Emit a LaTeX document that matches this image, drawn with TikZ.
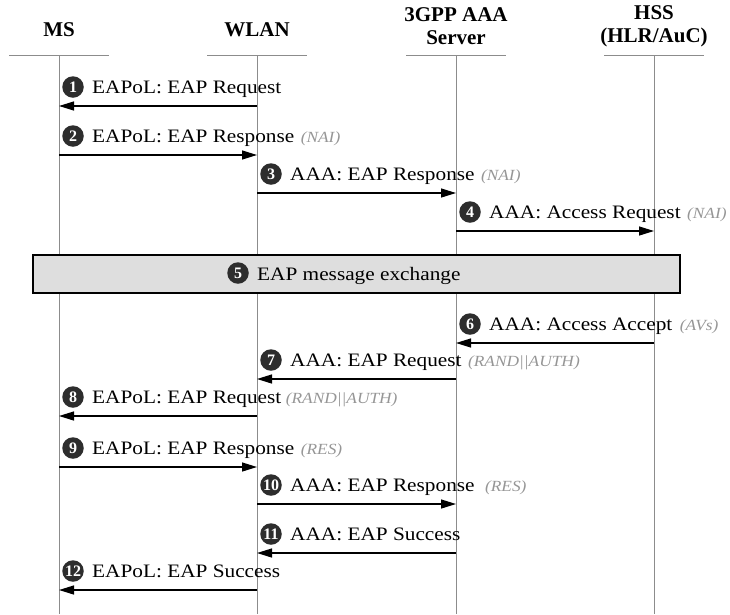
\documentclass[tikz,border=0pt]{standalone}
\usepackage{fontspec}
\setmainfont{Liberation Serif}
\newfontfamily\msgfont{Liberation Serif}[FakeStretch=1.12]
\usetikzlibrary{calc,positioning,arrows.meta}

\definecolor{lifegray}{RGB}{140,140,140}
\definecolor{notegray}{RGB}{150,150,150}
\definecolor{boxgray}{RGB}{222,222,222}
\definecolor{numdark}{RGB}{45,45,45}

\begin{document}
\begin{tikzpicture}[x=1pt,y=-1pt,
  head/.style={font=\fontsize{21}{23}\selectfont\bfseries, align=center, inner sep=0},
  life/.style={lifegray, line width=0.9pt},
  msg/.style={line width=1.3pt, -{Triangle[length=15pt,width=9pt]}},
  num/.style={circle, fill=numdark, text=white, inner sep=0, minimum size=21.5pt,
    font=\fontsize{16}{16}\selectfont\bfseries},
  lbl/.style={anchor=base west, inner sep=0, font=\msgfont\fontsize{19}{21}\selectfont},
  note/.style={inner sep=0, text=notegray, font=\msgfont\fontsize{15.5}{17}\selectfont\itshape},
]
\useasboundingbox (0,0) rectangle (730,614);

% entities
\node[head] (ms) at (59,30) {MS};
\node[head] (wlan) at (257,30) {WLAN};
\node[head] (aaa) at (456,26) {3GPP AAA\\Server};
\node[head] (hss) at (654,26) {HSS\\(HLR/AuC)};

\foreach \n/\x in {ms/59, wlan/257, aaa/456, hss/654} {
  \coordinate (\n l) at (\x-50,55);
  \coordinate (\n r) at (\x+50,55);
  \coordinate (\n top) at (\x,55);
  \coordinate (\n bot) at (\x,614);
  \draw[life] (\n l) -- (\n r);
  \draw[life] (\n top) -- (\n bot);
}

% points on the lifelines, one row per message
\foreach \r/\y in {1/106,2/155,3/193,4/231,6/343,7/379,8/416,9/467,10/504,11/553,12/590} {
  \coordinate (ms\r) at (59,\y);
  \coordinate (wlan\r) at (257,\y);
  \coordinate (aaa\r) at (456,\y);
  \coordinate (hss\r) at (654,\y);
}

% 1
\draw[msg] (wlan1) -- (ms1);
\node[num] (n1) at ($(ms1)+(14,-19)$) {1};
\node[lbl] (t1) at ($(ms1)+(33,-13)$) {EAPoL: EAP Request};
% 2
\draw[msg] (ms2) -- (wlan2);
\node[num] (n2) at ($(ms2)+(14,-19)$) {2};
\node[lbl] (t2) at ($(ms2)+(33,-13)$) {EAPoL: EAP Response};
\node[note, right=6pt of t2.base east, anchor=base west] {(NAI)};
% 3
\draw[msg] (wlan3) -- (aaa3);
\node[num] (n3) at ($(wlan3)+(14,-19)$) {3};
\node[lbl] (t3) at ($(wlan3)+(33,-13)$) {AAA: EAP Response};
\node[note, right=6pt of t3.base east, anchor=base west] {(NAI)};
% 4
\draw[msg] (aaa4) -- (hss4);
\node[num] (n4) at ($(aaa4)+(14,-19)$) {4};
\node[lbl] (t4) at ($(aaa4)+(33,-13)$) {AAA: Access Request};
\node[note, right=6pt of t4.base east, anchor=base west] {(NAI)};

% 5
\node[draw=black, line width=1.2pt, fill=boxgray, minimum width=647pt,
  minimum height=38pt, inner sep=0] (xchg) at (356.5,274) {};
\node[num] (n5) at (238,273) {5};
\node[lbl] (t5) at (257,280) {EAP message exchange};

% 6
\draw[msg] (hss6) -- (aaa6);
\node[num] (n6) at ($(aaa6)+(14,-19)$) {6};
\node[lbl] (t6) at ($(aaa6)+(33,-13)$) {AAA: Access Accept};
\node[note, right=7pt of t6.base east, anchor=base west] {(AVs)};
% 7
\draw[msg] (aaa7) -- (wlan7);
\node[num] (n7) at ($(wlan7)+(14,-19)$) {7};
\node[lbl] (t7) at ($(wlan7)+(33,-13)$) {AAA: EAP Request};
\node[note, right=6pt of t7.base east, anchor=base west] {(RAND||AUTH)};
% 8
\draw[msg] (wlan8) -- (ms8);
\node[num] (n8) at ($(ms8)+(14,-19)$) {8};
\node[lbl] (t8) at ($(ms8)+(33,-13)$) {EAPoL: EAP Request};
\node[note, right=4pt of t8.base east, anchor=base west] {(RAND||AUTH)};
% 9
\draw[msg] (ms9) -- (wlan9);
\node[num] (n9) at ($(ms9)+(14,-19)$) {9};
\node[lbl] (t9) at ($(ms9)+(33,-13)$) {EAPoL: EAP Response};
\node[note, right=6pt of t9.base east, anchor=base west] {(RES)};
% 10
\draw[msg] (wlan10) -- (aaa10);
\node[num] (n10) at ($(wlan10)+(14,-19)$) {10};
\node[lbl] (t10) at ($(wlan10)+(33,-13)$) {AAA: EAP Response};
\node[note, right=10pt of t10.base east, anchor=base west] {(RES)};
% 11
\draw[msg] (aaa11) -- (wlan11);
\node[num] (n11) at ($(wlan11)+(14,-19)$) {11};
\node[lbl] (t11) at ($(wlan11)+(33,-13)$) {AAA: EAP Success};
% 12
\draw[msg] (wlan12) -- (ms12);
\node[num] (n12) at ($(ms12)+(14,-19)$) {12};
\node[lbl] (t12) at ($(ms12)+(33,-13)$) {EAPoL: EAP Success};
\end{tikzpicture}
\end{document}
